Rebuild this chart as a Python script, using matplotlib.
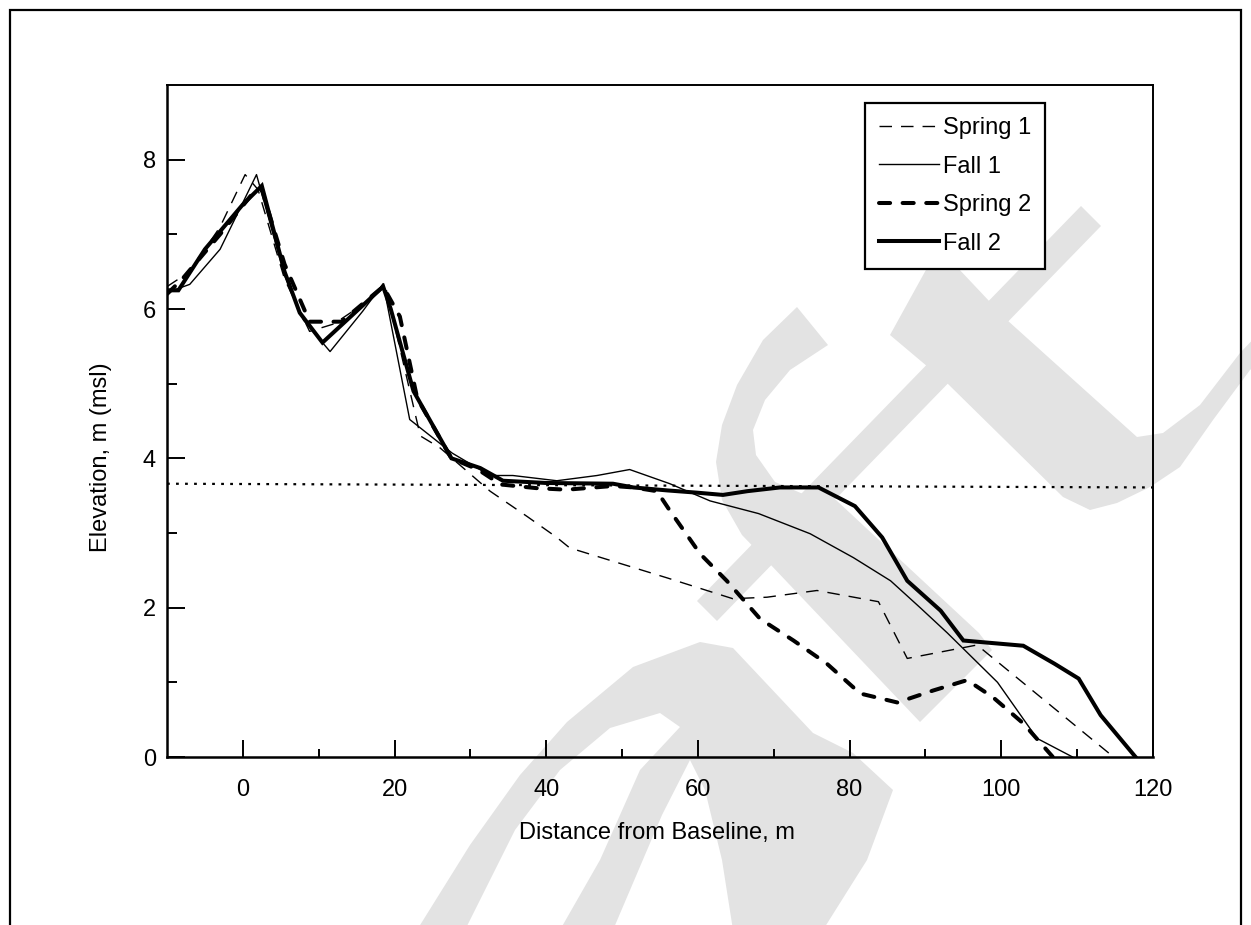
import matplotlib
matplotlib.use('Agg')
import matplotlib.pyplot as plt
from matplotlib.patches import Polygon, Rectangle
from matplotlib.ticker import FixedLocator

plt.rcParams['font.family'] = ['Liberation Sans', 'DejaVu Sans']
plt.rcParams['lines.scale_dashes'] = False

# beach profiles: distance from baseline (m) and elevation (m, msl)
spring1_x = [-10, -7, -3, 0.3, 2, 5.5, 8.8, 12, 16.4, 18.7, 23.4, 26, 32.6, 37.5, 41.4, 43.1,
             55.9, 64.6, 69.1, 75.7, 83.8, 87.6, 96.8, 114.8]
spring1_y = [6.3, 6.5, 7.1, 7.8, 7.6, 6.4, 5.7, 5.8, 6.1, 6.35, 4.3, 4.14, 3.56, 3.22, 2.94, 2.8,
             2.4, 2.12, 2.14, 2.23, 2.08, 1.32, 1.5, 0.0]

fall1_x = [-10, -7, -3, 1.8, 5.5, 8, 11.5, 15.8, 18.5, 22, 27.6, 32.6, 35.6, 41.4, 46.7, 51,
           56.3, 61.6, 68, 74.8, 80.5, 85.4, 89.3, 92.9, 99.5, 104.7, 109.4]
fall1_y = [6.22, 6.33, 6.8, 7.8, 6.45, 5.85, 5.43, 5.97, 6.34, 4.52, 4.07, 3.77, 3.77, 3.7, 3.77, 3.85,
           3.66, 3.43, 3.26, 2.99, 2.67, 2.36, 2.0, 1.66, 1.0, 0.25, 0.0]

spring2_x = [-10, -8, -3, 1.3, 2.5, 5.5, 8.8, 13, 18.5, 20.7, 23, 27.5, 31, 34, 38.8, 42.7, 48.8,
             51.5, 54.6, 56.3, 60.3, 63.8, 68.2, 72.6, 77, 81.4, 86.3, 91, 95.5, 98.9, 102.9, 106.8]
spring2_y = [6.2, 6.4, 7.0, 7.55, 7.6, 6.6, 5.83, 5.83, 6.3, 5.9, 4.8, 4.0, 3.85, 3.65, 3.6, 3.58, 3.63,
             3.61, 3.56, 3.3, 2.72, 2.36, 1.85, 1.56, 1.25, 0.85, 0.73, 0.89, 1.03, 0.8, 0.45, 0.0]

fall2_x = [-10, -8.5, -5, 0, 2.5, 5.5, 7.5, 10.5, 18.5, 19.5, 22.5, 27.5, 31.3, 34.3, 40, 48.8,
           51.5, 56, 59.9, 63.3, 66.5, 70.8, 75.9, 80.7, 84.3, 87.6, 92, 95, 102.9, 107, 110.2, 113.1, 117.7]
fall2_y = [6.25, 6.25, 6.8, 7.4, 7.65, 6.5, 5.95, 5.55, 6.3, 6.0, 4.9, 4.0, 3.87, 3.7, 3.67, 3.66,
           3.61, 3.57, 3.54, 3.51, 3.56, 3.61, 3.61, 3.36, 2.94, 2.36, 1.96, 1.56, 1.49, 1.25, 1.05, 0.56, 0.0]

# mean water level
mwl_x = [-10, 120]
mwl_y = [3.66, 3.61]

W, H = 1251, 925
fig = plt.figure(figsize=(W / 100, H / 100), dpi=100)
ax = fig.add_axes([167 / W, 1 - 757 / H, (1153 - 167) / W, (757 - 85) / H])
ax.set_facecolor('none')


def to_fig(pts):
    return [(x / W, 1 - y / H) for x, y in pts]


# light grey watermark behind the plot (pixel outlines)
grey = '#e3e3e3'
watermark = [
    [(1081, 206), (1101, 226), (717, 621), (697, 601)],
    [(927, 268), (957, 267), (1007, 320), (1137, 437), (1163, 433), (1200, 405), (1240, 353),
     (1262, 330), (1262, 362), (1250, 370), (1213, 420), (1180, 467), (1150, 487), (1117, 503),
     (1090, 510), (1063, 497), (947, 383), (890, 335)],
    [(797, 307), (828, 345), (790, 370), (765, 400), (753, 430), (756, 455), (775, 482), (810, 497),
     (836, 500), (979, 633), (992, 650), (920, 722), (769, 563), (742, 535), (722, 500), (716, 462),
     (722, 425), (737, 385), (763, 340)],
    [(417, 930), (470, 845), (520, 775), (567, 722), (633, 667), (700, 642), (733, 648), (813, 733),
     (853, 753), (893, 790), (867, 860), (823, 930), (733, 930), (722, 860), (705, 790), (690, 760),
     (662, 815), (613, 930), (560, 930), (600, 860), (640, 770), (680, 727), (660, 713), (610, 728),
     (560, 770), (515, 830), (465, 930)],
]
for pts in watermark:
    fig.add_artist(Polygon(to_fig(pts), closed=True, facecolor=grey, edgecolor='none',
                           transform=fig.transFigure, zorder=-5))

# outer frame (bottom edge is cut off)
fig.add_artist(Rectangle((10 / W, -0.05), 1231 / W, 1 - 10 / H + 0.05, fill=False,
                         edgecolor='black', linewidth=1.6, transform=fig.transFigure, zorder=-4))

ax.plot(mwl_x, mwl_y, color='black', linewidth=1.6, linestyle=(0, (2.0, 4.5)))
ax.plot(spring1_x, spring1_y, color='black', linewidth=1.0, linestyle=(0, (9, 6.5)), label='Spring 1')
ax.plot(fall1_x, fall1_y, color='black', linewidth=1.0, label='Fall 1')
ax.plot(spring2_x, spring2_y, color='black', linewidth=2.9, linestyle=(0, (8, 9)),
        dash_capstyle='round', label='Spring 2')
ax.plot(fall2_x, fall2_y, color='black', linewidth=2.9, solid_joinstyle='miter', label='Fall 2')

ax.set_xlim(-10, 120)
ax.set_ylim(0, 9)
ax.xaxis.set_major_locator(FixedLocator([0, 20, 40, 60, 80, 100, 120]))
ax.xaxis.set_minor_locator(FixedLocator([10, 30, 50, 70, 90, 110]))
ax.yaxis.set_major_locator(FixedLocator([0, 2, 4, 6, 8]))
ax.yaxis.set_minor_locator(FixedLocator([1, 3, 5, 7]))
ax.tick_params(axis='x', which='major', direction='in', length=12, width=1.4, pad=16, labelsize=17)
ax.tick_params(axis='x', which='minor', direction='in', length=6, width=1.4)
ax.tick_params(axis='y', which='major', direction='in', length=13, width=1.4, pad=8, labelsize=17)
ax.tick_params(axis='y', which='minor', direction='in', length=7, width=1.4)
for side in ['left', 'bottom']:
    ax.spines[side].set_linewidth(1.8)
for side in ['top', 'right']:
    ax.spines[side].set_linewidth(1.4)

ax.set_xlabel('Distance from Baseline, m', fontsize=17)
ax.set_ylabel('Elevation, m (msl)', fontsize=17)
ax.xaxis.set_label_coords(0.497, -0.097)
ax.yaxis.set_label_coords(-0.056, 0.446)

leg = ax.legend(loc='upper left', bbox_to_anchor=(865 / W, 1 - 103 / H), bbox_transform=fig.transFigure,
                borderaxespad=0, fontsize=17, handlelength=2.55, handletextpad=0.15, labelspacing=0.7,
                borderpad=0.6, fancybox=False, framealpha=1, edgecolor='black')
leg.get_frame().set_linewidth(1.6)

fig.savefig('out.png', dpi=100)
